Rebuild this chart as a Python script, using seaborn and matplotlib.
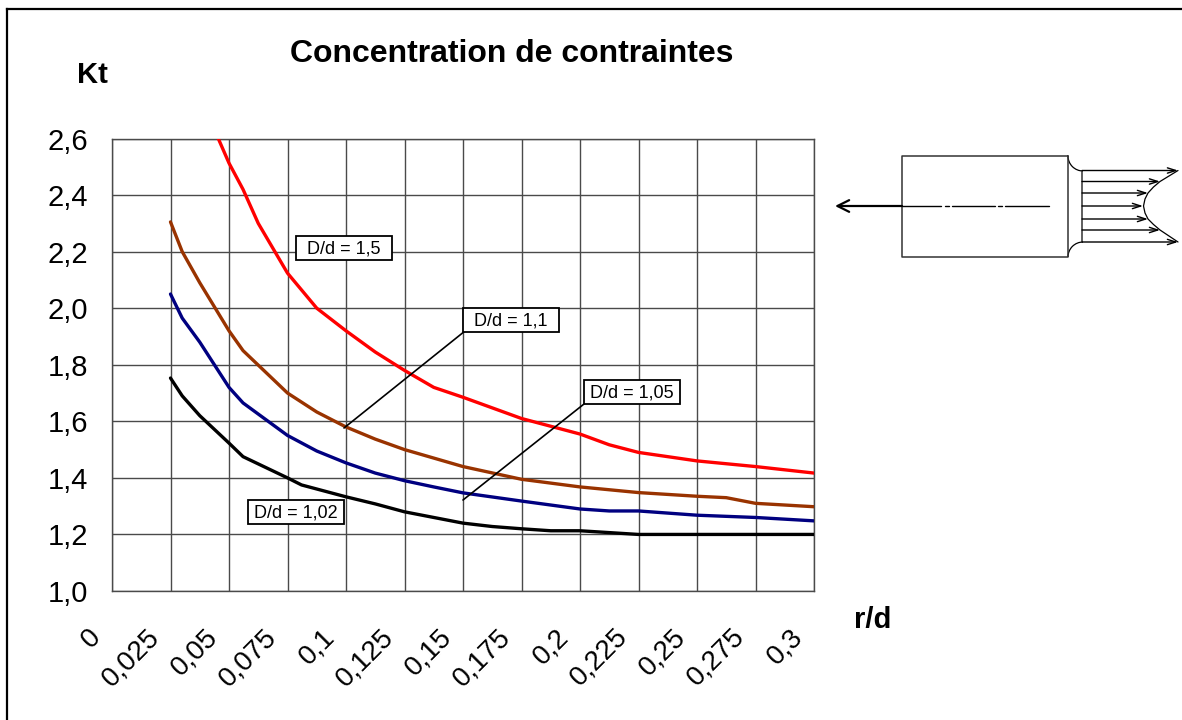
import numpy as np
import pandas as pd
import matplotlib
matplotlib.use('Agg')
import matplotlib.pyplot as plt
from matplotlib.patches import Rectangle, Arc
from matplotlib.transforms import ScaledTranslation
import seaborn as sns

# curves
x_102 = [0.025, 0.03, 0.0375, 0.05, 0.056, 0.075, 0.081, 0.1, 0.1125, 0.125, 0.1375, 0.15, 0.1625, 0.175, 0.1875, 0.2, 0.225, 0.25, 0.275, 0.3]
y_102 = [1.753, 1.69, 1.62, 1.523, 1.475, 1.40, 1.375, 1.333, 1.308, 1.28, 1.26, 1.24, 1.228, 1.22, 1.213, 1.213, 1.2, 1.2, 1.2, 1.2]
x_105 = [0.025, 0.03, 0.0375, 0.05, 0.056, 0.075, 0.0875, 0.1, 0.1125, 0.125, 0.1375, 0.15, 0.175, 0.2, 0.2125, 0.225, 0.25, 0.275, 0.3]
y_105 = [2.05, 1.965, 1.88, 1.72, 1.665, 1.55, 1.495, 1.453, 1.417, 1.39, 1.368, 1.347, 1.318, 1.29, 1.283, 1.283, 1.268, 1.26, 1.248]
x_11 = [0.025, 0.03, 0.0375, 0.05, 0.056, 0.075, 0.0875, 0.1, 0.1125, 0.125, 0.1375, 0.15, 0.175, 0.2, 0.225, 0.25, 0.2625, 0.275, 0.3]
y_11 = [2.305, 2.2, 2.09, 1.92, 1.85, 1.70, 1.633, 1.58, 1.537, 1.50, 1.47, 1.44, 1.395, 1.368, 1.348, 1.335, 1.33, 1.31, 1.298]
x_15 = [0.0375, 0.05, 0.056, 0.0625, 0.075, 0.0875, 0.1, 0.1125, 0.125, 0.1375, 0.15, 0.175, 0.2, 0.2125, 0.225, 0.25, 0.275, 0.3]
y_15 = [2.75, 2.513, 2.42, 2.30, 2.124, 2.00, 1.92, 1.845, 1.78, 1.72, 1.685, 1.61, 1.555, 1.517, 1.49, 1.46, 1.44, 1.417]

x_ticks = [0, 0.025, 0.05, 0.075, 0.1, 0.125, 0.15, 0.175, 0.2, 0.225, 0.25, 0.275, 0.3]
x_labels = ['0', '0,025', '0,05', '0,075', '0,1', '0,125', '0,15', '0,175', '0,2', '0,225', '0,25', '0,275', '0,3']
y_ticks = [1.0, 1.2, 1.4, 1.6, 1.8, 2.0, 2.2, 2.4, 2.6]
y_labels = ['1,0', '1,2', '1,4', '1,6', '1,8', '2,0', '2,2', '2,4', '2,6']

df = pd.concat([
    pd.DataFrame({'rd': x_102, 'kt': y_102, 'serie': '1,02'}),
    pd.DataFrame({'rd': x_105, 'kt': y_105, 'serie': '1,05'}),
    pd.DataFrame({'rd': x_11, 'kt': y_11, 'serie': '1,1'}),
    pd.DataFrame({'rd': x_15, 'kt': y_15, 'serie': '1,5'}),
])
colors = {'1,02': '#000000', '1,05': '#000080', '1,1': '#993300', '1,5': '#FF0000'}

sns.set_theme(style='white')
plt.rcParams['font.family'] = ['Liberation Sans', 'DejaVu Sans']

W, H = 1182, 720
fig = plt.figure(figsize=(W / 100, H / 100), dpi=100, facecolor='white')
ax = fig.add_axes([112 / W, (H - 591) / H, 702 / W, 452.5 / H])

sns.lineplot(data=df, x='rd', y='kt', hue='serie', palette=colors, estimator=None,
             sort=False, legend=False, lw=2.4, ax=ax, zorder=3)

ax.set_xlim(0, 0.3)
ax.set_ylim(1.0, 2.6)
ax.set_xticks(x_ticks)
ax.set_xticklabels(x_labels, rotation=45, ha='right', va='top', rotation_mode='anchor', fontsize=20, color='black')
ax.set_yticks(y_ticks)
ax.set_yticklabels(y_labels, fontsize=21, color='black')
ax.tick_params(axis='both', length=0)
ax.tick_params(axis='x', pad=12)
ax.tick_params(axis='y', pad=17)
ax.set_xlabel('')
ax.set_ylabel('')
ax.grid(True, color='#4a4a4a', lw=1)
ax.set_axisbelow(True)
for s in ax.spines.values():
    s.set_color('#4a4a4a')
    s.set_linewidth(1)

# rotated labels sit further left and lower than the default anchor
shift = ScaledTranslation(-24 / 100, -16 / 100, fig.dpi_scale_trans)
for lab in ax.get_xticklabels():
    lab.set_transform(lab.get_transform() + shift)

# overlay in pixel coordinates: frame, texts, boxes and the small sketch
ov = fig.add_axes([0, 0, 1, 1], facecolor='none')
ov.set_xlim(0, W)
ov.set_ylim(H, 0)
ov.axis('off')

ov.plot([7, 7], [H, 9], color='black', lw=1.6, solid_capstyle='projecting')
ov.plot([7, W], [9, 9], color='black', lw=1.6, solid_capstyle='projecting')

ov.text(512, 62, 'Concentration de contraintes', fontsize=23, fontweight='bold', ha='center', va='baseline', color='black')
ov.text(92, 83, 'Kt', fontsize=21, fontweight='bold', ha='center', va='baseline', color='black')
ov.text(873, 628, 'r/d', fontsize=21, fontweight='bold', ha='center', va='baseline', color='black')

# leaders then boxes
ov.plot([344, 465], [428, 331], color='black', lw=1.2)
ov.plot([463, 584], [500, 404], color='black', lw=1.2)
boxes = [(296, 236, 'D/d = 1,5'), (248, 500, 'D/d = 1,02'), (463, 308, 'D/d = 1,1'), (584, 380, 'D/d = 1,05')]
for bx, by, label in boxes:
    ov.add_patch(Rectangle((bx, by), 96, 24, fc='white', ec='black', lw=1.3, zorder=5))
    ov.text(bx + 48, by + 12.5, label, fontsize=13, ha='center', va='center', color='black', zorder=6)

# sketch of the shaft
sk = '#333333'
ov.plot([1068, 901.5, 901.5, 1068, 1068], [156, 156, 257, 257, 156], color=sk, lw=1.1)
ov.plot([1082, 1082], [171, 242], color=sk, lw=1.1)
ov.add_patch(Arc((1083, 156), 30, 30, theta1=90, theta2=180, ec='black', lw=0.9))
ov.add_patch(Arc((1083, 257), 30, 30, theta1=180, theta2=270, ec='black', lw=0.9))
for a, b in [(902, 941), (945, 949), (952, 995), (998, 1002), (1005, 1049)]:
    ov.plot([a, b], [206, 206], color='black', lw=1)

arrow_y = [170.5, 181.5, 193, 206, 219, 230, 242]
arrow_x = [1178, 1160, 1148, 1143, 1148, 1160, 1178]
for ay, ax_end in zip(arrow_y, arrow_x):
    ov.annotate('', xy=(ax_end, ay), xytext=(1082, ay),
                arrowprops=dict(arrowstyle='->,head_length=0.5,head_width=0.16', color='black', lw=1, shrinkA=0, shrinkB=0))
curve_x = [1178, 1169, 1160, 1153.5, 1148, 1145, 1143.5, 1145, 1148, 1153.5, 1160, 1169, 1178]
curve_y = [170.5, 176, 181.5, 187, 193, 199, 206, 213, 219, 224.5, 230, 236, 242]
ov.plot(curve_x, curve_y, color='black', lw=0.9)
ov.annotate('', xy=(835, 206), xytext=(902, 206),
            arrowprops=dict(arrowstyle='->,head_length=0.7,head_width=0.35', color='black', lw=1.6, shrinkA=0, shrinkB=0))

fig.savefig('out.png', dpi=100)
